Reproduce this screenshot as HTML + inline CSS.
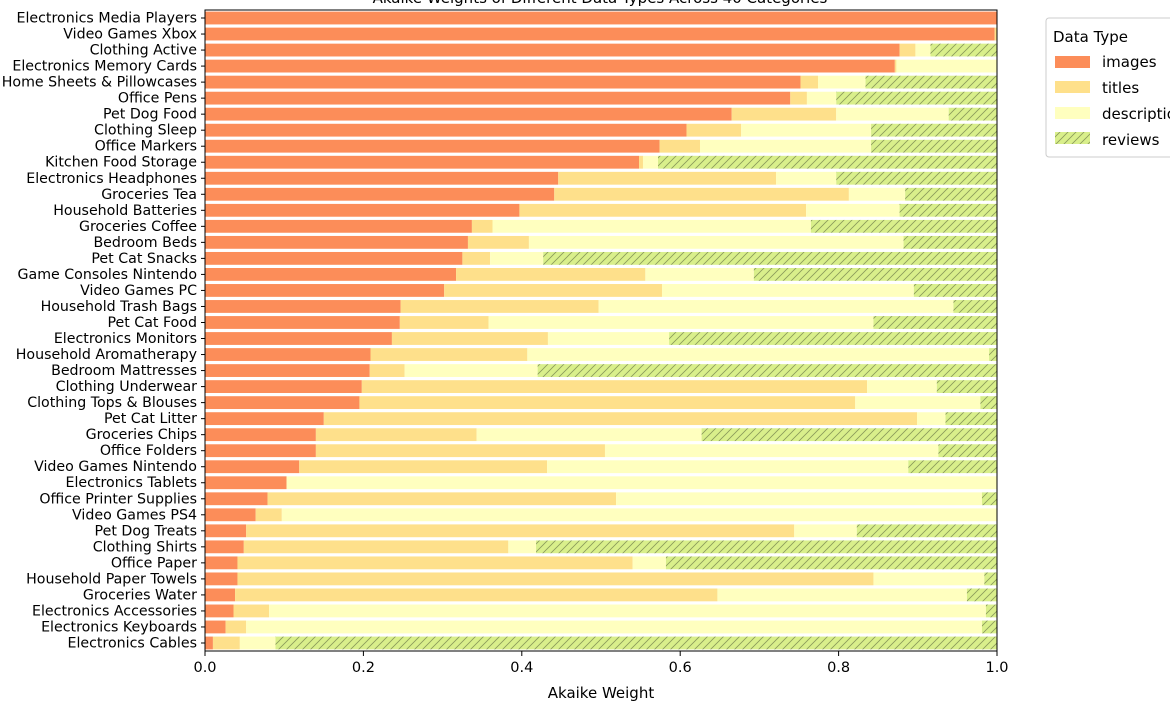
<!DOCTYPE html>
<html><head><meta charset="utf-8"><style>
body{margin:0;background:#fff;}
svg{display:block;font-family:"DejaVu Sans","Liberation Sans",sans-serif;}
</style></head><body>
<svg id="chart" width="1170" height="708" xmlns="http://www.w3.org/2000/svg">
<defs>
<pattern id="hatch" patternUnits="userSpaceOnUse" width="8" height="8">
<rect width="8" height="8" fill="#d9ef8b"/>
<path d="M-2,10 L10,-2 M-2,2 L2,-2 M6,10 L10,6" stroke="#8a9a5a" stroke-width="0.8"/>
</pattern>
</defs>
<text x="600" y="3" text-anchor="middle" font-size="15" fill="#000">Akaike Weights of Different Data Types Across 40 Categories</text>
<g id="bars"></g>
<g id="axes"></g>
<g>
<rect x="1046" y="18" width="140" height="139" rx="3" fill="#fff" stroke="#ccc"/>
<text x="1053" y="42" font-size="15" fill="#000">Data Type</text>
<rect x="1055" y="56" width="35" height="12" fill="#fc8d59"/>
<text x="1102" y="67" font-size="15">images</text>
<rect x="1055" y="81" width="35" height="12" fill="#fee08b"/>
<text x="1102" y="93" font-size="15">titles</text>
<rect x="1055" y="107" width="35" height="12" fill="#ffffbf"/>
<text x="1102" y="119" font-size="15">descriptions</text>
<rect x="1055" y="132" width="35" height="12" fill="url(#hatch)"/>
<text x="1102" y="145" font-size="15">reviews</text>
</g>
</svg>
<script>
const categories=["Electronics Media Players","Video Games Xbox","Clothing Active","Electronics Memory Cards","Home Sheets & Pillowcases","Office Pens","Pet Dog Food","Clothing Sleep","Office Markers","Kitchen Food Storage","Electronics Headphones","Groceries Tea","Household Batteries","Groceries Coffee","Bedroom Beds","Pet Cat Snacks","Game Consoles Nintendo","Video Games PC","Household Trash Bags","Pet Cat Food","Electronics Monitors","Household Aromatherapy","Bedroom Mattresses","Clothing Underwear","Clothing Tops & Blouses","Pet Cat Litter","Groceries Chips","Office Folders","Video Games Nintendo","Electronics Tablets","Office Printer Supplies","Video Games PS4","Pet Dog Treats","Clothing Shirts","Office Paper","Household Paper Towels","Groceries Water","Electronics Accessories","Electronics Keyboards","Electronics Cables"];
const images=[1,.997,.877,.871,.752,.739,.665,.608,.574,.548,.446,.441,.397,.337,.332,.325,.317,.302,.247,.246,.236,.209,.208,.198,.195,.150,.140,.140,.119,.103,.079,.064,.052,.049,.041,.041,.038,.036,.026,.010];
const titles=[0,.003,.020,.002,.022,.021,.132,.069,.051,.005,.275,.372,.362,.026,.077,.035,.239,.275,.250,.112,.197,.198,.044,.638,.626,.749,.203,.365,.313,0,.440,.033,.692,.334,.499,.803,.609,.045,.026,.034];
const descriptions=[0,0,.019,.127,.060,.037,.142,.164,.216,.019,.076,.071,.118,.402,.473,.067,.137,.318,.448,.486,.153,.583,.168,.088,.158,.036,.284,.421,.456,.897,.462,.903,.079,.035,.042,.140,.315,.905,.929,.045];
const reviews=[0,0,.084,0,.166,.203,.061,.159,.159,.428,.203,.116,.123,.235,.118,.573,.307,.105,.055,.156,.414,.010,.580,.076,.021,.065,.373,.074,.112,0,.019,0,.177,.582,.418,.016,.038,.014,.019,.911];
const xTicks=[0,0.2,0.4,0.6,0.8,1.0];
const xTickLabels=["0.0","0.2","0.4","0.6","0.8","1.0"];

const NS="http://www.w3.org/2000/svg";
const L=205,R=997,T=10,B=651;
const n=categories.length,step=(B-T)/n,bh=step*0.8;
const xs=v=>L+v*(R-L);
const yc=i=>T+step*(i+0.5);
const series=[["images",images,"#fc8d59"],["titles",titles,"#fee08b"],["descriptions",descriptions,"#ffffbf"],["reviews",reviews,"url(#hatch)"]];
const bars=document.getElementById('bars'),axes=document.getElementById('axes');
function mk(tag,attrs,parent){const e=document.createElementNS(NS,tag);for(const k in attrs)e.setAttribute(k,attrs[k]);parent.appendChild(e);return e;}
for(let i=0;i<n;i++){
  let acc=0;
  for(const [nm,arr,col] of series){
    const v=arr[i];
    if(v>0){
      const r=mk('rect',{x:xs(acc),y:yc(i)-bh/2,width:xs(acc+v)-xs(acc),height:bh,fill:col},bars);
      
      
    }
    acc+=v;
  }
  const tk=mk('line',{x1:L-4,x2:L,y1:yc(i),y2:yc(i),stroke:'#000','stroke-width':1},axes);
  
  
  const t=mk('text',{x:L-8,y:yc(i)+4.5,'text-anchor':'end','font-size':14.2,fill:'#000'},axes);
  t.textContent=categories[i];
  
  
}
const fr=mk('rect',{x:L,y:T,width:R-L,height:B-T,fill:'none',stroke:'#000','stroke-width':1},axes);


xTicks.forEach((v,k)=>{
  const l=mk('line',{x1:xs(v),x2:xs(v),y1:B,y2:B+5,stroke:'#000'},axes);
  
  
  const t=mk('text',{x:xs(v),y:B+21,'text-anchor':'middle','font-size':14.5,fill:'#000'},axes);
  t.textContent=xTickLabels[k];
  
  
});
const xt=mk('text',{x:(L+R)/2,y:B+47,'text-anchor':'middle','font-size':15,fill:'#000'},axes);
xt.textContent="Akaike Weight";


</script>
</body></html>
